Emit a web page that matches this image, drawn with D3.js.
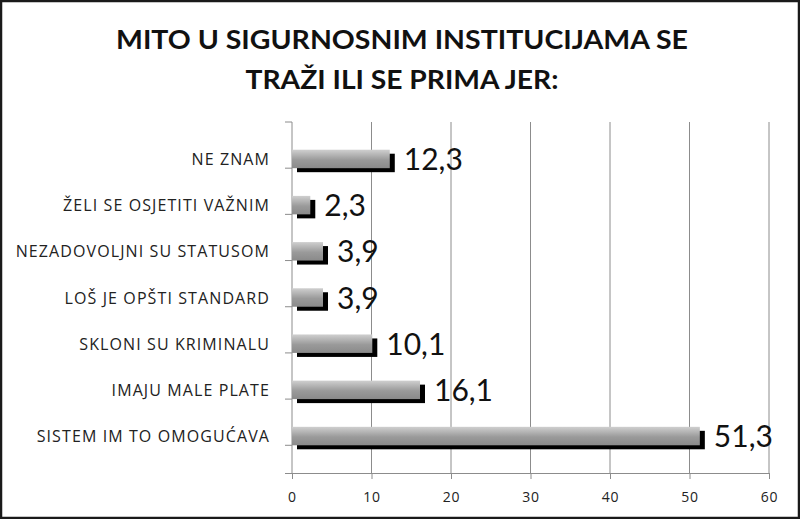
<!DOCTYPE html>
<html>
<head>
<meta charset="utf-8">
<script src="https://cdn.jsdelivr.net/npm/d3@7"></script>
<style>
  body { margin: 0; background: #fff; }
  svg { display: block; font-family: Lato, "Open Sans", sans-serif; }
</style>
</head>
<body>
<svg id="chart" width="800" height="519"></svg>
<script>
// Daten
const categories = ["NE ZNAM", "ŽELI SE OSJETITI VAŽNIM", "NEZADOVOLJNI SU STATUSOM",
  "LOŠ JE OPŠTI STANDARD", "SKLONI SU KRIMINALU", "IMAJU MALE PLATE", "SISTEM IM TO OMOGUĆAVA"];
const values = [12.3, 2.3, 3.9, 3.9, 10.1, 16.1, 51.3];
const xTicks = [0, 10, 20, 30, 40, 50, 60];
const titleLines = ["MITO U SIGURNOSNIM INSTITUCIJAMA SE", "TRAŽI ILI SE PRIMA JER:"];

const svg = d3.select("#chart"),
  W = +svg.attr("width"),
  H = +svg.attr("height");

const plot = { left: 292, right: 769, top: 122, bottom: 473 };

const x = d3.scaleLinear().domain([0, 60]).range([plot.left, plot.right]);
const y = d3.scaleBand().domain(categories).range([plot.top, plot.bottom]).padding(0.6);
const step = y.step();

// Rahmen
svg.append("rect")
  .attr("x", 1).attr("y", 1)
  .attr("width", W - 2).attr("height", H - 2)
  .attr("fill", "#fff")
  .attr("stroke", "#1a1a1a")
  .attr("stroke-width", 2.5);

// Gradient fuer die Balken
const grad = svg.append("defs").append("linearGradient")
  .attr("id", "barGrad")
  .attr("x1", 0).attr("y1", 0).attr("x2", 0).attr("y2", 1);
grad.append("stop").attr("offset", "0%").attr("stop-color", "#cfcfcf");
grad.append("stop").attr("offset", "55%").attr("stop-color", "#9a9a9a");
grad.append("stop").attr("offset", "100%").attr("stop-color", "#8a8a8a");

// Titel
svg.append("g").selectAll("text")
  .data(titleLines)
  .enter().append("text")
  .attr("x", 402)
  .attr("y", (d, i) => 49 + i * 40)
  .attr("text-anchor", "middle")
  .attr("font-size", 26)
  .attr("font-weight", "bold")
  .attr("fill", "#111")
  .attr("textLength", (d, i) => i === 0 ? 572 : 313)
  .attr("lengthAdjust", "spacingAndGlyphs")
  .text(d => d);

// Gitterlinien
svg.append("g").selectAll("line")
  .data(xTicks.slice(1))
  .enter().append("line")
  .attr("x1", d => x(d)).attr("x2", d => x(d))
  .attr("y1", plot.top).attr("y2", plot.bottom)
  .attr("stroke", "#8c8c8c")
  .attr("stroke-width", 1);

// x-Achse
const xAxis = svg.append("g")
  .attr("transform", `translate(0,${plot.bottom})`)
  .call(d3.axisBottom(x).tickValues(xTicks).tickSize(6).tickPadding(13).tickFormat(d3.format("d")));
xAxis.select(".domain").attr("stroke", "#8c8c8c").attr("d", `M${plot.left - 7},0.5H${plot.right}`);
xAxis.selectAll(".tick line").attr("stroke", "#8c8c8c");
xAxis.selectAll(".tick text")
  .attr("font-family", "'Open Sans', sans-serif")
  .attr("font-size", 14)
  .attr("letter-spacing", 0.8)
  .attr("fill", "#222");

// y-Achse
const yAxisG = svg.append("g");
yAxisG.append("line")
  .attr("x1", plot.left).attr("x2", plot.left)
  .attr("y1", plot.top).attr("y2", plot.bottom)
  .attr("stroke", "#8c8c8c");
yAxisG.selectAll("line.tk")
  .data(d3.range(categories.length + 1))
  .enter().append("line")
  .attr("class", "tk")
  .attr("x1", plot.left - 7).attr("x2", plot.left)
  .attr("y1", i => plot.top + i * step).attr("y2", i => plot.top + i * step)
  .attr("stroke", "#8c8c8c");

// Kategorien
svg.append("g").selectAll("text")
  .data(categories)
  .enter().append("text")
  .attr("x", 270)
  .attr("y", d => y(d) + y.bandwidth() / 2 + 6)
  .attr("text-anchor", "end")
  .attr("font-family", "'Open Sans', sans-serif")
  .attr("font-size", 16)
  .attr("letter-spacing", 1.1)
  .attr("fill", "#222")
  .text(d => d);

// Balken
const rows = categories.map((c, i) => ({ cat: c, val: values[i] }));
const bars = svg.append("g").selectAll("g")
  .data(rows)
  .enter().append("g");

bars.append("rect")
  .attr("x", x(0) + 5)
  .attr("y", d => y(d.cat) + 4)
  .attr("width", d => x(d.val) - x(0))
  .attr("height", y.bandwidth())
  .attr("fill", "#000");

bars.append("rect")
  .attr("x", x(0))
  .attr("y", d => y(d.cat))
  .attr("width", d => x(d.val) - x(0))
  .attr("height", y.bandwidth())
  .attr("fill", "url(#barGrad)");

// Werte
bars.append("text")
  .attr("x", d => x(d.val) + 14)
  .attr("y", d => y(d.cat) + y.bandwidth() / 2 + 11)
  .attr("font-size", 30)
  .attr("fill", "#111")
  .text(d => String(d.val).replace(".", ","));
</script>
</body>
</html>
